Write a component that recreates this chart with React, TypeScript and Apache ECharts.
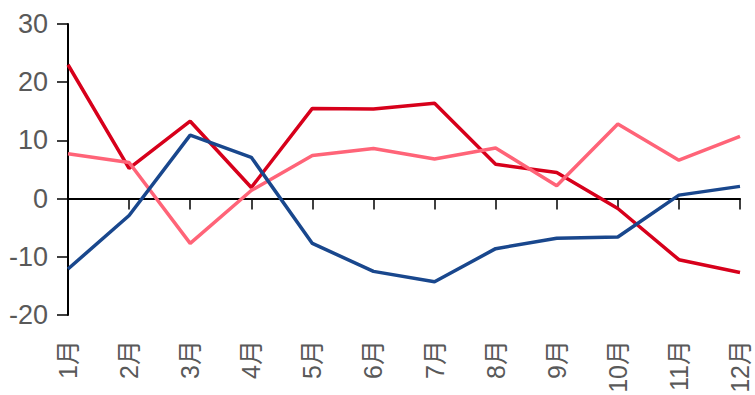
import React, { useEffect, useRef } from "react";
import * as echarts from "echarts";

const categories = ["1月", "2月", "3月", "4月", "5月", "6月", "7月", "8月", "9月", "10月", "11月", "12月"];
const redSeries = [23, 5.2, 13.3, 1.9, 15.5, 15.4, 16.4, 5.9, 4.5, -1.7, -10.5, -12.7];
const blueSeries = [-12.1, -2.9, 10.9, 7.1, -7.7, -12.5, -14.3, -8.6, -6.8, -6.6, 0.6, 2.1];
const pinkSeries = [7.7, 6.2, -7.7, 1.4, 7.4, 8.6, 6.8, 8.7, 2.2, 12.8, 6.6, 10.7];
const yMin = -20;
const yMax = 30;
const yInterval = 10;

const FONT = "'Liberation Sans', Arial, 'Noto Sans CJK SC', sans-serif";

export default function App() {
  const ref = useRef<HTMLDivElement>(null);
  useEffect(() => {
    if (!ref.current) return;
    const chart = echarts.init(ref.current, undefined, { renderer: "svg" });
    const line = (data: number[], color: string) => ({
      type: "line",
      data,
      xAxisIndex: 0,
      showSymbol: false,
      symbol: "none",
      lineStyle: { color, width: 3.5 },
      itemStyle: { color },
    });
    chart.setOption({
      animation: false,
      grid: {
        left: 68,
        right: 15,
        top: 24,
        bottom: 80,
        containLabel: false,
        outerBoundsMode: "none",
      },
      xAxis: [
        {
          type: "category",
          data: categories,
          boundaryGap: false,
          axisLine: { show: true, onZero: true, lineStyle: { color: "#000", width: 2 } },
          axisTick: { show: true, length: 11, lineStyle: { color: "#000", width: 1.5 } },
          axisLabel: { show: false },
          splitLine: { show: false },
        },
        {
          type: "category",
          data: categories,
          boundaryGap: false,
          position: "bottom",
          axisLine: { show: false, onZero: false },
          axisTick: { show: false },
          axisLabel: {
            show: true,
            rotate: 90,
            margin: 25,
            fontSize: 25,
            color: "#595959",
            fontFamily: FONT,
            interval: 0,
          },
          splitLine: { show: false },
        },
      ],
      yAxis: {
        type: "value",
        min: yMin,
        max: yMax,
        interval: yInterval,
        axisLine: { show: true, lineStyle: { color: "#000", width: 2 } },
        axisTick: { show: true, length: 11, lineStyle: { color: "#000", width: 1.5 } },
        axisLabel: { margin: 20, fontSize: 27, color: "#595959", fontFamily: FONT },
        splitLine: { show: false },
      },
      series: [
        line(redSeries, "#d7001b"),
        line(pinkSeries, "#ff6478"),
        line(blueSeries, "#19478d"),
      ],
    });
    return () => chart.dispose();
  }, []);
  return (
    <div
      ref={ref}
      style={{ position: "absolute", left: 0, top: 0, width: 755, height: 395, background: "#fff" }}
    />
  );
}
